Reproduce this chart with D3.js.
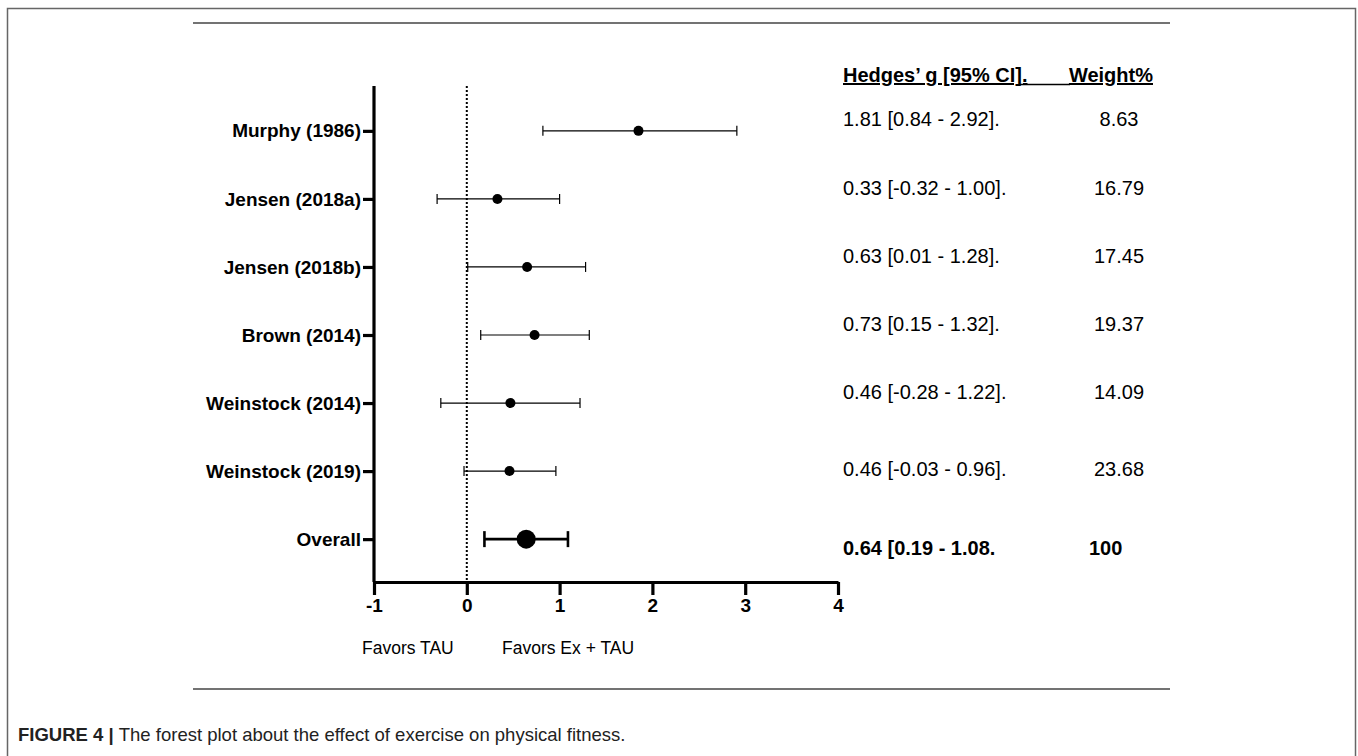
<!DOCTYPE html>
<html>
<head>
<meta charset="utf-8">
<script src="https://cdn.jsdelivr.net/npm/d3@7"></script>
<style>
  body { margin: 0; background: #fff; }
  svg { display: block; font-family: "Liberation Sans", Arial, sans-serif; }
</style>
</head>
<body>
<div id="svgContainer"></div>
<script>
// studies and their effect sizes, as drawn
const studies = ["Murphy (1986)", "Jensen (2018a)", "Jensen (2018b)", "Brown (2014)",
                 "Weinstock (2014)", "Weinstock (2019)", "Overall"];
const effects = [1.85, 0.33, 0.65, 0.73, 0.47, 0.46, 0.64];
const lower = [0.82, -0.32, 0.01, 0.15, -0.28, -0.03, 0.19];
const upper = [2.91, 1.00, 1.28, 1.32, 1.22, 0.96, 1.09];
const ciLabels = ["1.81 [0.84 - 2.92].", "0.33 [-0.32 - 1.00].", "0.63 [0.01 - 1.28].",
                  "0.73 [0.15 - 1.32].", "0.46 [-0.28 - 1.22].", "0.46 [-0.03 - 0.96].",
                  "0.64 [0.19 - 1.08."];
const weights = ["8.63", "16.79", "17.45", "19.37", "14.09", "23.68", "100"];
const xTicks = [-1, 0, 1, 2, 3, 4];

const width = 1358;
const height = 756;

const svg = d3.select("#svgContainer").append("svg")
    .attr("width", width)
    .attr("height", height);

// page frame
svg.append("rect")
    .attr("x", 7.5).attr("y", 8.5)
    .attr("width", 1348).attr("height", 760)
    .attr("fill", "none")
    .attr("stroke", "#666")
    .attr("stroke-width", 1.5);

// top and bottom rules
[23, 689].forEach(y => {
    svg.append("line")
        .attr("x1", 193).attr("x2", 1170)
        .attr("y1", y).attr("y2", y)
        .attr("stroke", "#444")
        .attr("stroke-width", 1.5);
});

const x = d3.scaleLinear().domain([-1, 4]).range([374, 838]);
const y = d3.scalePoint().domain(studies).range([88, 582]).padding(0.63);

const rows = studies.map((s, i) => ({
    name: s, g: effects[i], lo: lower[i], hi: upper[i],
    ci: ciLabels[i], w: weights[i], overall: s === "Overall"
}));

// x axis
const xAxis = svg.append("g")
    .attr("transform", "translate(0,582)")
    .call(d3.axisBottom(x).tickValues(xTicks).tickFormat(d => String(d))
        .tickSize(13).tickSizeOuter(0).tickPadding(4));
xAxis.select(".domain").attr("stroke", "#000").attr("stroke-width", 3.2);
xAxis.selectAll(".tick line").attr("stroke", "#000").attr("stroke-width", 3.2);
xAxis.selectAll(".tick text")
    .attr("fill", "#000")
    .attr("font-size", 19)
    .attr("font-weight", "bold")
    .attr("font-family", "Liberation Sans, Arial, sans-serif");

// y axis
const yAxis = svg.append("g")
    .attr("transform", "translate(374,0)")
    .call(d3.axisLeft(y).tickSize(11).tickSizeOuter(0).tickPadding(2));
yAxis.select(".domain").attr("stroke", "#000").attr("stroke-width", 3.2)
    .attr("d", "M0,86V582");
yAxis.selectAll(".tick line").attr("stroke", "#000").attr("stroke-width", 3.2);
yAxis.selectAll(".tick text")
    .attr("fill", "#000")
    .attr("font-size", 19)
    .attr("font-weight", "bold")
    .attr("font-family", "Liberation Sans, Arial, sans-serif");

// zero reference line
svg.append("line")
    .attr("x1", x(0)).attr("x2", x(0))
    .attr("y1", 86).attr("y2", 580)
    .attr("stroke", "#000")
    .attr("stroke-width", 2)
    .attr("stroke-dasharray", "2,2");

// error bars
const bars = svg.append("g").selectAll("g")
    .data(rows)
    .join("g")
    .attr("stroke", "#000")
    .attr("stroke-width", d => d.overall ? 2.6 : 1.2);

bars.append("line")
    .attr("x1", d => x(d.lo)).attr("x2", d => x(d.hi))
    .attr("y1", d => y(d.name)).attr("y2", d => y(d.name));
bars.append("line")
    .attr("x1", d => x(d.lo)).attr("x2", d => x(d.lo))
    .attr("y1", d => y(d.name) - (d.overall ? 8 : 5))
    .attr("y2", d => y(d.name) + (d.overall ? 8 : 5));
bars.append("line")
    .attr("x1", d => x(d.hi)).attr("x2", d => x(d.hi))
    .attr("y1", d => y(d.name) - (d.overall ? 8 : 5))
    .attr("y2", d => y(d.name) + (d.overall ? 8 : 5));

svg.append("g").selectAll("circle")
    .data(rows)
    .join("circle")
    .attr("cx", d => x(d.g))
    .attr("cy", d => y(d.name))
    .attr("r", d => d.overall ? 9.5 : 5)
    .attr("fill", "#000");

// favors labels
svg.append("text")
    .attr("x", 362).attr("y", 654)
    .attr("font-size", 17.5)
    .text("Favors TAU");
svg.append("text")
    .attr("x", 502).attr("y", 654)
    .attr("font-size", 17.5)
    .text("Favors Ex + TAU");

// right-hand table
const header = svg.append("g")
    .attr("font-size", 20)
    .attr("font-weight", "bold");
header.append("text")
    .attr("x", 843).attr("y", 82)
    .attr("text-decoration", "underline")
    .text("Hedges\u2019 g [95% CI].");
header.append("text")
    .attr("x", 1153).attr("y", 82)
    .attr("text-anchor", "end")
    .attr("text-decoration", "underline")
    .text("Weight%");
header.append("line")
    .attr("x1", 1020).attr("x2", 1070)
    .attr("y1", 84.5).attr("y2", 84.5)
    .attr("stroke", "#000")
    .attr("stroke-width", 1.6);

const textY = [126, 195, 263, 331, 399, 476, 555];

svg.append("g").selectAll("text")
    .data(rows)
    .join("text")
    .attr("x", 843)
    .attr("y", (d, i) => textY[i])
    .attr("font-size", 20)
    .attr("font-weight", d => d.overall ? "bold" : "normal")
    .text(d => d.ci);

svg.append("g").selectAll("text")
    .data(rows)
    .join("text")
    .attr("x", d => d.overall ? 1089 : 1119)
    .attr("y", (d, i) => textY[i])
    .attr("text-anchor", d => d.overall ? "start" : "middle")
    .attr("font-size", 20)
    .attr("font-weight", d => d.overall ? "bold" : "normal")
    .text(d => d.w);

// caption
const cap = svg.append("text")
    .attr("x", 18).attr("y", 741)
    .attr("font-size", 18.5)
    .attr("fill", "#222");
cap.append("tspan").attr("font-weight", "bold").text("FIGURE 4 | ");
cap.append("tspan").text("The forest plot about the effect of exercise on physical fitness.");
</script>
</body>
</html>
